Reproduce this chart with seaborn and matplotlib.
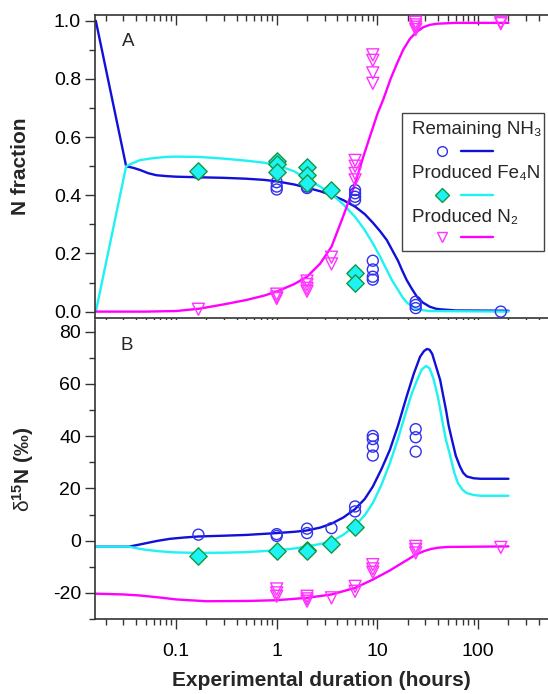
import numpy as np
import pandas as pd
import matplotlib
matplotlib.use("Agg")
import matplotlib.pyplot as plt
import seaborn as sns
from matplotlib.ticker import FixedLocator, FixedFormatter, LogLocator, NullFormatter, MultipleLocator
from matplotlib.patches import Rectangle
from matplotlib.lines import Line2D

# ---------------- data ----------------
# Panel A: N fraction measurements
nh3_a_x = [0.167, 1, 1, 1, 2, 2, 3.5, 6, 6, 6, 6, 9, 9, 9, 9, 24, 24, 24, 168]
nh3_a_y = [0.475, 0.445, 0.43, 0.42, 0.43, 0.425, 0.416, 0.418, 0.407, 0.395, 0.384,
           0.175, 0.145, 0.12, 0.11, 0.034, 0.023, 0.012, 0.0]
fe4n_a_x = [0.167, 1, 1, 1, 2, 2, 2, 3.5, 6, 6]
fe4n_a_y = [0.483, 0.519, 0.508, 0.481, 0.498, 0.47, 0.443, 0.418, 0.132, 0.10]
n2_a_x = [0.167, 1, 1, 1, 2, 2, 2, 2, 3.5, 3.5, 6, 6, 6, 6,
          9, 9, 9, 9, 24, 24, 24, 24, 168, 168]
n2_a_y = [0.008, 0.06, 0.05, 0.045, 0.105, 0.093, 0.08, 0.07, 0.187, 0.164,
          0.52, 0.50, 0.475, 0.453, 0.883, 0.864, 0.821, 0.785,
          0.995, 0.986, 0.978, 0.970, 0.995, 0.99]

# Panel A: model curves
nh3_a_mx = [0.016, 0.032, 0.038, 0.044, 0.053, 0.064, 0.08, 0.1, 0.167, 0.3, 0.5, 0.75, 1, 1.5, 2,
            2.7, 3.5, 4.6, 6, 7.5, 9, 10.6, 12.4, 14, 16, 17.7, 19.5, 22, 24.6, 28, 33, 38, 42,
            60, 200]
nh3_a_my = [1.0, 0.5, 0.494, 0.487, 0.476, 0.469, 0.466, 0.464, 0.462, 0.46, 0.457, 0.453, 0.448,
            0.437, 0.426, 0.414, 0.401, 0.383, 0.361, 0.335, 0.306, 0.277, 0.246, 0.212, 0.175,
            0.14, 0.109, 0.078, 0.052, 0.032, 0.017, 0.01, 0.008, 0.004, 0.003]
fe4n_a_mx = [0.016, 0.032, 0.038, 0.044, 0.06, 0.08, 0.1, 0.167, 0.3, 0.5, 0.75, 1, 1.5, 2, 2.7,
             3.5, 4.6, 6, 7.5, 9, 10.6, 12.4, 14, 16, 17.7, 19.5, 22, 24.6, 28, 33, 200]
fe4n_a_my = [0.0, 0.5, 0.512, 0.521, 0.528, 0.532, 0.533, 0.532, 0.526, 0.519, 0.512, 0.504, 0.482,
             0.456, 0.43, 0.405, 0.368, 0.326, 0.28, 0.235, 0.19, 0.143, 0.107, 0.075, 0.05,
             0.032, 0.018, 0.01, 0.005, 0.002, 0.0]
n2_a_mx = [0.016, 0.05, 0.1, 0.17, 0.3, 0.5, 0.75, 1, 1.5, 2, 2.7, 3.5, 4.6, 6, 7.2, 8.5, 10,
           11.5, 13.5, 15.6, 18, 21, 24.5, 28.6, 33, 39, 60, 200]
n2_a_my = [0.0, 0.0, 0.002, 0.01, 0.025, 0.04, 0.055, 0.069, 0.095, 0.12, 0.165, 0.223, 0.33,
           0.44, 0.53, 0.606, 0.68, 0.732, 0.8, 0.852, 0.9, 0.938, 0.962, 0.978, 0.986, 0.99,
           0.993, 0.993]

# Panel B: delta 15N measurements
nh3_b_x = [0.167, 1, 1, 2, 2, 3.5, 6, 6, 9, 9, 9, 9, 24, 24, 24]
nh3_b_y = [2.3, 2.5, 1.8, 4.6, 2.9, 4.8, 13.1, 11.2, 40.1, 38.9, 36.0, 32.6, 42.7, 39.6, 34.1]
fe4n_b_x = [0.167, 1, 2, 2, 3.5, 6]
fe4n_b_y = [-6.0, -3.8, -3.4, -3.8, -1.3, 5.2]
n2_b_x = [1, 1, 1, 2, 2, 2, 3.5, 6, 6, 9, 9, 9, 24, 24, 24, 168]
n2_b_y = [-18.5, -20.0, -21.3, -21.3, -22.3, -23.2, -21.9, -17.5, -19.4,
          -9.2, -10.8, -12.1, -2.2, -3.4, -4.7, -2.6]

# Panel B: model curves
nh3_b_mx = [0.016, 0.034, 0.042, 0.05, 0.065, 0.087, 0.12, 0.167, 0.3, 0.5, 1, 1.5, 2, 2.7, 3.5,
            4.6, 6, 7.5, 9, 11, 13.3, 16, 19.5, 23, 26.5, 29, 31, 33, 35, 38, 42, 45, 48, 51,
            55, 60, 66, 71, 77, 90, 105, 200]
nh3_b_my = [-2.3, -2.3, -1.6, -1.0, -0.1, 0.7, 1.2, 1.6, 1.9, 2.2, 2.9, 3.4, 3.9, 5.0, 6.5,
            8.9, 12.1, 16.0, 20.7, 27.5, 34.8, 44.0, 55.2, 64.0, 70.4, 72.6, 73.4, 73.1, 71.5,
            67.0, 61.5, 55.5, 50.0, 44.0, 38.6, 32.5, 28.4, 26.0, 24.6, 23.9, 23.7, 23.7]
fe4n_b_mx = [0.016, 0.034, 0.042, 0.05, 0.07, 0.1, 0.167, 0.3, 0.5, 1, 1.5, 2, 2.7, 3.5, 4.6, 6,
             7.5, 9, 11, 13.3, 16, 19.5, 22, 24.5, 27.5, 30.4, 33, 36, 39.8, 45, 48, 52, 58,
             63, 70, 77, 90, 105, 200]
fe4n_b_my = [-2.3, -2.3, -3.0, -3.5, -4.1, -4.5, -4.7, -4.6, -4.4, -3.7, -3.0, -2.2, -1.3, -0.3,
             2.3, 5.7, 9.8, 14.4, 21.5, 29.7, 39.0, 50.1, 56.5, 61.0, 65.5, 66.9, 66.0, 62.0,
             55.2, 44.0, 38.5, 33.5, 26.0, 22.0, 19.5, 18.2, 17.5, 17.2, 17.2]
n2_b_mx = [0.016, 0.03, 0.044, 0.07, 0.1, 0.2, 0.5, 1, 2, 3.5, 6, 9, 13.3, 19.5, 24, 29, 34,
           40, 50, 200]
n2_b_my = [-20.3, -20.6, -21.0, -21.8, -22.5, -23.2, -23.1, -22.8, -21.9, -20.6, -18.1, -14.9,
           -11.4, -7.5, -5.4, -4.0, -3.2, -2.7, -2.4, -2.2]

x_tick_vals = [0.1, 1, 10, 100]
x_tick_labels = ["0.1", "1", "10", "100"]
legend_labels = ["Remaining NH\u2083", "Produced Fe\u2084N", "Produced N\u2082"]

# ---------------- style ----------------
sns.set_theme(style="ticks")
plt.rcParams["font.family"] = ["Liberation Sans", "DejaVu Sans"]
plt.rcParams["mathtext.fontset"] = "custom"
plt.rcParams["mathtext.rm"] = "Liberation Sans"
plt.rcParams["mathtext.bf"] = "Liberation Sans:bold"
plt.rcParams["mathtext.it"] = "Liberation Sans:italic"
plt.rcParams["axes.unicode_minus"] = False

C_BLUE_L = "#1010d8"
C_BLUE_M = "#3030ee"
C_CYAN = "#1ef2f2"
C_GREEN = "#119944"
C_MAG = "#ff00ff"
C_MAG_M = "#ff33ff"
SPINE = "#333333"

W, H = 548, 694
fig = plt.figure(figsize=(W / 100, H / 100), dpi=100)
fig.patch.set_facecolor("white")

def fx(px):
    return px / W

def fy(py):
    return 1 - py / H

axA = fig.add_axes([fx(95), fy(318.3), fx(548) - fx(95), fy(15) - fy(318.3)])
axB = fig.add_axes([fx(95), fy(619), fx(548) - fx(95), fy(320) - fy(619)])

XLIM = (0.0157, 494)
LW = 1.7
TICK_FS = 14
LAB_FS = 15
LEG_FS = 13.5

def draw(ax, mx, my, color):
    sns.lineplot(x=mx, y=my, ax=ax, color=color, linewidth=LW, sort=False, estimator=None)

def pts(ax, x, y, marker, s, face, edge, lw=1.0):
    sns.scatterplot(x=x, y=y, ax=ax, marker=marker, s=s, facecolors=face,
                    edgecolors=edge, linewidth=lw, zorder=3)

# Panel A
pts(axA, nh3_a_x, nh3_a_y, "o", 62, "none", C_BLUE_M)
pts(axA, n2_a_x, n2_a_y, "v", 75, "none", C_MAG_M)
pts(axA, fe4n_a_x, fe4n_a_y, "D", 78, C_CYAN, C_GREEN)
draw(axA, nh3_a_mx, nh3_a_my, C_BLUE_L)
draw(axA, fe4n_a_mx, fe4n_a_my, C_CYAN)
draw(axA, n2_a_mx, n2_a_my, C_MAG)

# Panel B
pts(axB, nh3_b_x, nh3_b_y, "o", 62, "none", C_BLUE_M)
pts(axB, n2_b_x, n2_b_y, "v", 75, "none", C_MAG_M)
pts(axB, fe4n_b_x, fe4n_b_y, "D", 78, C_CYAN, C_GREEN)
draw(axB, nh3_b_mx, nh3_b_my, C_BLUE_L)
draw(axB, fe4n_b_mx, fe4n_b_my, C_CYAN)
draw(axB, n2_b_mx, n2_b_my, C_MAG)

for ax in (axA, axB):
    ax.set_xscale("log")
    ax.set_xlim(*XLIM)
    ax.xaxis.set_major_locator(FixedLocator(x_tick_vals))
    ax.xaxis.set_minor_locator(LogLocator(base=10, subs=np.arange(2, 10), numticks=20))
    ax.xaxis.set_minor_formatter(NullFormatter())
    ax.spines["right"].set_visible(False)
    ax.spines["top"].set_visible(False)
    for sp in ax.spines.values():
        sp.set_color(SPINE)
        sp.set_linewidth(1.2)
    ax.tick_params(axis="both", which="major", length=7, width=1.0, color=SPINE,
                   labelsize=TICK_FS, labelcolor="black", pad=3, direction="out")
    ax.tick_params(axis="both", which="minor", length=4, width=1.0, color=SPINE, direction="out")
    ax.tick_params(axis="x", which="both", top=False)
    ax.set_facecolor("white")
    ax.grid(False)

# Panel A: y axis, no x labels, top axis with inward ticks
axA.set_ylim(-0.023, 1.02)
axA.yaxis.set_major_locator(MultipleLocator(0.2))
axA.yaxis.set_minor_locator(MultipleLocator(0.1))
axA.yaxis.set_major_formatter(plt.FuncFormatter(lambda v, p: f"{v:.1f}"))
axA.tick_params(axis="x", which="both", labelbottom=False)
axA_top = axA.secondary_xaxis("top")
axA_top.xaxis.set_major_locator(FixedLocator(x_tick_vals))
axA_top.xaxis.set_minor_locator(LogLocator(base=10, subs=np.arange(2, 10), numticks=20))
axA_top.xaxis.set_minor_formatter(NullFormatter())
axA_top.tick_params(axis="x", which="major", direction="in", length=7, width=1.0, color=SPINE, labeltop=False)
axA_top.tick_params(axis="x", which="minor", direction="in", length=4, width=1.0, color=SPINE)
axA_top.spines["top"].set_color(SPINE)
axA_top.spines["top"].set_linewidth(1.2)

# Panel B
axB.set_ylim(-30, 84.5)
axB.yaxis.set_major_locator(MultipleLocator(20))
axB.yaxis.set_minor_locator(MultipleLocator(10))
axB.xaxis.set_major_formatter(FixedFormatter(x_tick_labels))
axB.tick_params(axis="x", which="major", pad=10)

axA.set_xlabel("")
axB.set_xlabel("Experimental duration (hours)", fontsize=LAB_FS, fontweight="bold", labelpad=8)
axA.set_ylabel("N fraction", fontsize=LAB_FS, fontweight="bold")
axB.set_ylabel(r"$\mathrm{\delta}^{\mathbf{15}}$N (‰)", fontsize=LAB_FS, fontweight="bold")
axA.yaxis.set_label_coords(-0.143, 0.5)
axB.yaxis.set_label_coords(-0.13, 0.5)

fig.text(fx(128), fy(41), "A", fontsize=LEG_FS, ha="center", va="center")
fig.text(fx(127), fy(346), "B", fontsize=LEG_FS, ha="center", va="center")

# Legend (manual, two rows per entry)
fig.patches.append(Rectangle((fx(402), fy(251)), fx(544) - fx(402), fy(113) - fy(251),
                             transform=fig.transFigure, facecolor="white",
                             edgecolor="#444444", linewidth=1.0, zorder=5))
rows = [(129, 151, "o", "none", C_BLUE_M, C_BLUE_L, 7),
        (174, 195, "D", C_CYAN, C_GREEN, C_CYAN, 7),
        (217, 237, "v", "none", C_MAG_M, C_MAG, 7.5)]
for (ty, my, mk, fc, ec, lc, ms), lab in zip(rows, legend_labels):
    fig.text(fx(412), fy(ty), lab, fontsize=LEG_FS, ha="left", va="center", zorder=6)
    fig.lines.append(Line2D([fx(442)], [fy(my)], marker=mk, markersize=ms,
                            markerfacecolor=fc, markeredgecolor=ec, markeredgewidth=1.0,
                            linestyle="none", transform=fig.transFigure, zorder=6))
    fig.lines.append(Line2D([fx(461), fx(493)], [fy(my), fy(my)], color=lc, linewidth=LW,
                            transform=fig.transFigure, zorder=6))

fig.savefig("out.png", dpi=100, facecolor="white")
